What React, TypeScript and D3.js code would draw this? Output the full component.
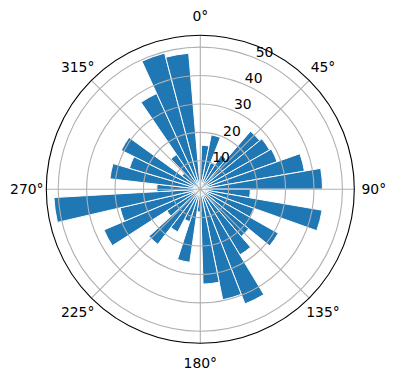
import React from 'react';
import * as d3 from 'd3';

// Polar histogram: 36 bins, theta zero at North, clockwise
const binStartDeg = 1.6;
const binWidthDeg = 9.82;
const counts = [
  15.5, 19.5, 10, 14, 27, 28, 28.7, 37.2, 43, 17.6,
  43.5, 20, 31.5, 22, 27, 43.3, 39.7, 33.4, 8, 26,
  12, 17, 24.5, 14, 36.8, 29, 51.6, 15.3, 32, 26,
  31, 8, 14.8, 37, 49.5, 48,
];
const radialTicks = [10, 20, 30, 40, 50];
const angleTicks = [0, 45, 90, 135, 180, 225, 270, 315];
const angleTickLabels = ['0°', '45°', '90°', '135°', '180°', '225°', '270°', '315°'];

export default function App() {
  const W = 396, H = 380;
  const cx = 200.3, cy = 189.2, R = 154;
  const rmax = (d3.max(counts) as number) * 1.05;
  const r = d3.scaleLinear().domain([0, rmax]).range([0, R]);
  const toRad = (d: number) => (d * Math.PI) / 180;
  const arc = d3.arc<any>();
  const font = 'DejaVu Sans, sans-serif';
  const fs = 13.9;
  const grid = '#b0b0b0';

  return (
    <svg width={W} height={H} style={{ position: 'absolute', left: 0, top: 0, background: '#fff' }}>
      <g transform={`translate(${cx},${cy})`}>
        {counts.map((v, i) => {
          const a0 = binStartDeg + i * binWidthDeg;
          const d = arc({ innerRadius: 0, outerRadius: r(v), startAngle: toRad(a0), endAngle: toRad(a0 + binWidthDeg) }) as string;
          return <path key={i} d={d} fill="#1f77b4" stroke="#fff" strokeWidth={1} />;
        })}
        {radialTicks.map((t) => (
          <circle key={t} r={r(t)} fill="none" stroke={grid} strokeWidth={1.1} />
        ))}
        {angleTicks.map((a) => (
          <line key={a} x1={0} y1={0} x2={R * Math.sin(toRad(a))} y2={-R * Math.cos(toRad(a))} stroke={grid} strokeWidth={1.1} />
        ))}
        <circle r={R} fill="none" stroke="#000" strokeWidth={1.1} />
        {radialTicks.map((t) => {
          const a = toRad(22.5);
          const x = r(t) * Math.sin(a), y = -r(t) * Math.cos(a);
          return (
            <text key={t} x={x + 1} y={y - 1} fontFamily={font} fontSize={fs} textAnchor="start">{t}</text>
          );
        })}
        {angleTicks.map((a, i) => {
          const rr = R + 19.5;
          const x = rr * Math.sin(toRad(a)), y = -rr * Math.cos(toRad(a));
          return (
            <text key={a} x={x} y={y} fontFamily={font} fontSize={fs} textAnchor="middle" dominantBaseline="central">{angleTickLabels[i]}</text>
          );
        })}
      </g>
    </svg>
  );
}
